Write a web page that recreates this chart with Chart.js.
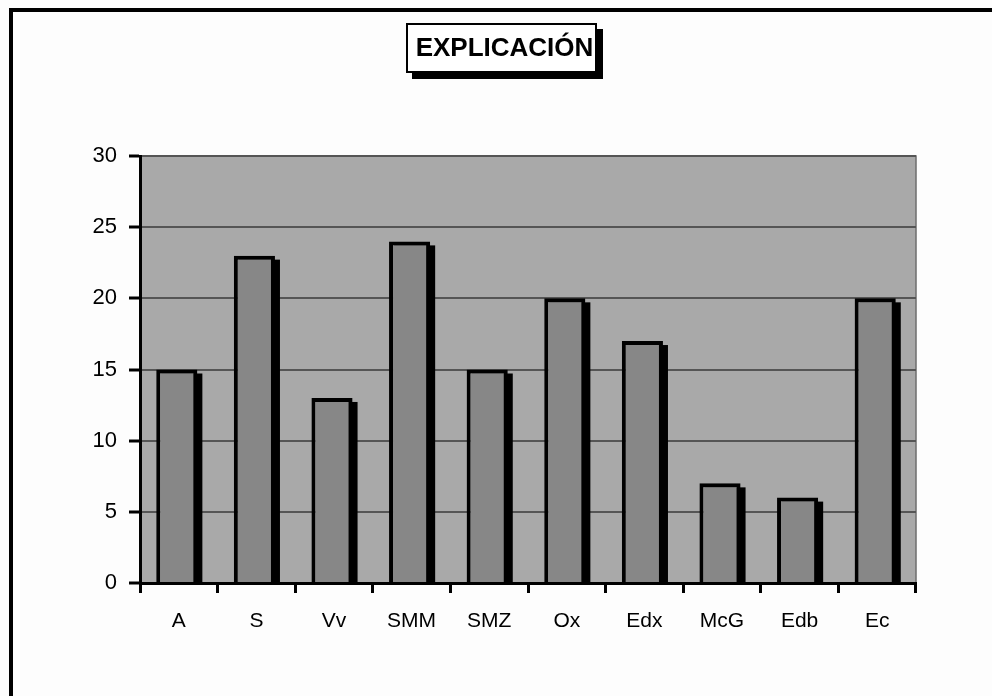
<!DOCTYPE html>
<html>
<head>
<meta charset="utf-8">
<script src="https://cdn.jsdelivr.net/npm/chart.js@4/dist/chart.umd.min.js"></script>
<style>
  html, body { margin: 0; padding: 0; background: #fdfdfd; }
  #wrap { width: 992px; height: 696px; }
</style>
</head>
<body>
<div id="wrap"><canvas id="c" width="992" height="696"></canvas></div>
<script>
const chartTitle = 'EXPLICACIÓN';
const categories = ['A', 'S', 'Vv', 'SMM', 'SMZ', 'Ox', 'Edx', 'McG', 'Edb', 'Ec'];
const values = [15, 23, 13, 24, 15, 20, 17, 7, 6, 20];
const yTicks = [0, 5, 10, 15, 20, 25, 30];

const FONT = '"Liberation Sans", Arial, sans-serif';
const BAR_SHIFT = -2;

// Page frame, grey plot area and the boxed title with its drop shadow
const framePlugin = {
  id: 'frame',
  beforeDraw(chart) {
    const { ctx, chartArea: a } = chart;
    ctx.save();
    ctx.fillStyle = '#fdfdfd';
    ctx.fillRect(0, 0, chart.width, chart.height);
    ctx.fillStyle = '#000';
    ctx.fillRect(9, 8, 4, chart.height - 8);
    ctx.fillRect(9, 8, chart.width - 9, 4);
    ctx.fillStyle = '#a9a9a9';
    ctx.fillRect(a.left, a.top, a.right - a.left, a.bottom - a.top);
    ctx.strokeStyle = '#6e6e6e';
    ctx.lineWidth = 1.5;
    ctx.strokeRect(a.left, a.top, a.right - a.left, a.bottom - a.top);
    ctx.restore();
  },
  afterDraw(chart) {
    const { ctx } = chart;
    const bx = 406, by = 23, bw = 191, bh = 50;
    ctx.save();
    ctx.fillStyle = '#000';
    ctx.fillRect(bx + 6, by + 6, bw, bh);
    ctx.fillStyle = '#fff';
    ctx.fillRect(bx, by, bw, bh);
    ctx.strokeStyle = '#000';
    ctx.lineWidth = 2;
    ctx.strokeRect(bx + 1, by + 1, bw - 2, bh - 2);
    ctx.fillStyle = '#000';
    ctx.font = 'bold 26px ' + FONT;
    ctx.textAlign = 'center';
    ctx.textBaseline = 'middle';
    ctx.fillText(chartTitle, bx + bw / 2 + 3, by + bh / 2 + 1);
    ctx.restore();
  }
};

// Solid black shadow behind each bar, offset down and to the right
const barShadowPlugin = {
  id: 'barShadow',
  beforeDatasetsDraw(chart) {
    const { ctx, chartArea: a } = chart;
    const bars = chart.getDatasetMeta(0).data;
    ctx.save();
    ctx.beginPath();
    ctx.rect(a.left, a.top, a.right - a.left, a.bottom - a.top);
    ctx.clip();
    ctx.fillStyle = '#000';
    bars.forEach(bar => {
      const p = bar.getProps(['x', 'y', 'base', 'width'], true);
      const left = p.x - p.width / 2 + BAR_SHIFT + 5;
      const top = p.y + 4;
      ctx.fillRect(left, top, p.width, p.base - top);
    });
    ctx.restore();
    ctx.save();
    ctx.translate(BAR_SHIFT, 0);
  },
  afterDatasetsDraw(chart) {
    chart.ctx.restore();
  }
};

new Chart(document.getElementById('c'), {
  type: 'bar',
  data: {
    labels: categories,
    datasets: [{
      data: values,
      backgroundColor: '#878787',
      borderColor: '#000',
      borderWidth: 4,
      borderSkipped: 'bottom',
      categoryPercentage: 1,
      barPercentage: 0.53
    }]
  },
  options: {
    responsive: false,
    animation: false,
    devicePixelRatio: 1,
    layout: { padding: { left: 0, right: 76, top: 156, bottom: 0 } },
    plugins: {
      legend: { display: false },
      title: { display: false },
      tooltip: { enabled: false }
    },
    scales: {
      x: {
        offset: true,
        afterFit(s) { s.height = 113; },
        border: { display: true, color: '#000', width: 3 },
        grid: {
          offset: true,
          drawOnChartArea: false,
          drawTicks: true,
          tickLength: 10,
          tickColor: '#000',
          tickWidth: 3,
          color: '#000'
        },
        ticks: {
          color: '#000',
          padding: 16,
          font: { family: FONT, size: 21 }
        }
      },
      y: {
        min: 0,
        max: 30,
        afterFit(s) { s.width = 140; },
        afterBuildTicks(s) { s.ticks = yTicks.map(v => ({ value: v })); },
        border: { display: true, color: '#000', width: 3 },
        grid: {
          color: '#555555',
          lineWidth: 2,
          drawTicks: true,
          tickLength: 11,
          tickColor: '#000',
          tickWidth: 3
        },
        ticks: {
          color: '#000',
          padding: 12,
          font: { family: FONT, size: 22 }
        }
      }
    }
  },
  plugins: [framePlugin, barShadowPlugin]
});
</script>
</body>
</html>
